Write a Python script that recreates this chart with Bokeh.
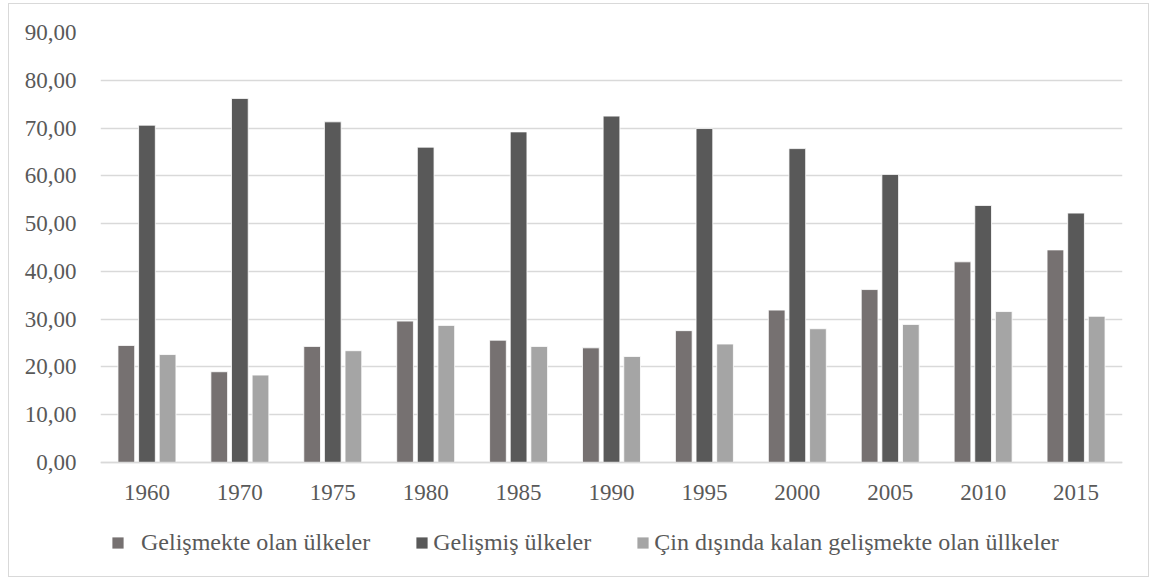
from bokeh.plotting import figure
from bokeh.models import ColumnDataSource, FactorRange, Range1d, FixedTicker, Legend, LegendItem
from bokeh.transform import dodge
from bokeh.embed import file_html
from bokeh.resources import INLINE

# ---- data ----
years = ["1960", "1970", "1975", "1980", "1985", "1990", "1995", "2000", "2005", "2010", "2015"]
gelismekte = [24.5, 19.0, 24.3, 29.6, 25.6, 24.0, 27.6, 31.9, 36.2, 42.0, 44.5]
gelismis = [70.6, 76.2, 71.3, 66.0, 69.2, 72.5, 69.9, 65.7, 60.3, 53.8, 52.2]
cin_disi = [22.6, 18.3, 23.4, 28.7, 24.3, 22.2, 24.8, 28.0, 28.9, 31.6, 30.6]
series_names = ["Gelişmekte olan ülkeler", "Gelişmiş ülkeler", "Çin dışında kalan gelişmekte olan üllkeler"]
y_tick_values = [0, 10, 20, 30, 40, 50, 60, 70, 80, 90]
y_tick_labels = ["0,00", "10,00", "20,00", "30,00", "40,00", "50,00", "60,00", "70,00", "80,00", "90,00"]

FONT = "Liberation Serif"
TXT = "#595959"
GRID = "#D9D9D9"
colors = ["#767171", "#595959", "#A5A5A5"]

src = ColumnDataSource(dict(year=years, a=gelismekte, b=gelismis, c=cin_disi))

# the frame extends below zero so that the category labels and the legend sit inside it
p = figure(width=1141, height=574, x_range=FactorRange(*years), y_range=Range1d(-22.6, 90),
           output_backend="svg", toolbar_location=None,
           min_border_left=91, min_border_right=28, min_border_top=28, min_border_bottom=8)
p.styles = {"border": "1px solid #D9D9D9", "margin-left": "8px", "margin-top": "3px"}
p.outline_line_color = None
p.background_fill_color = "white"
p.border_fill_color = "white"

rs = []
for col, off, c in zip(["a", "b", "c"], [-0.222, 0.0, 0.222], colors):
    r = p.vbar(x=dodge("year", off, range=p.x_range), top=col, width=0.18, source=src,
               fill_color=c, line_color="white", line_width=0.8)
    rs.append(r)

p.xgrid.grid_line_color = None
p.ygrid.ticker = FixedTicker(ticks=y_tick_values)
p.ygrid.grid_line_color = GRID
p.ygrid.grid_line_width = 1.5
p.yaxis.ticker = FixedTicker(ticks=y_tick_values)
p.yaxis.major_label_overrides = {v: s for v, s in zip(y_tick_values, y_tick_labels)}

for ax in (p.xaxis[0], p.yaxis[0]):
    ax.major_tick_line_color = None
    ax.minor_tick_line_color = None
    ax.major_label_text_font = FONT
    ax.major_label_text_font_size = "23px"
    ax.major_label_text_color = TXT
p.yaxis.axis_line_color = None
p.yaxis.major_label_standoff = 18
p.xaxis.fixed_location = 0
p.xaxis.axis_line_color = GRID
p.xaxis.axis_line_width = 1.5
p.xaxis.major_label_standoff = 16

items = [LegendItem(label="\u00a0\u00a0" + series_names[0], renderers=[rs[0]]),
         LegendItem(label=series_names[1], renderers=[rs[1]]),
         LegendItem(label=series_names[2], renderers=[rs[2]])]
legend = Legend(items=items, orientation="horizontal", location=(10, 14),
                padding=0, margin=0, spacing=44, label_standoff=4,
                glyph_width=15, glyph_height=15, label_height=15,
                label_text_font=FONT, label_text_font_size="24px", label_text_color=TXT,
                border_line_color=None, background_fill_alpha=0)
p.add_layout(legend, "center")

open("out.html", "w").write(file_html(p, INLINE))
